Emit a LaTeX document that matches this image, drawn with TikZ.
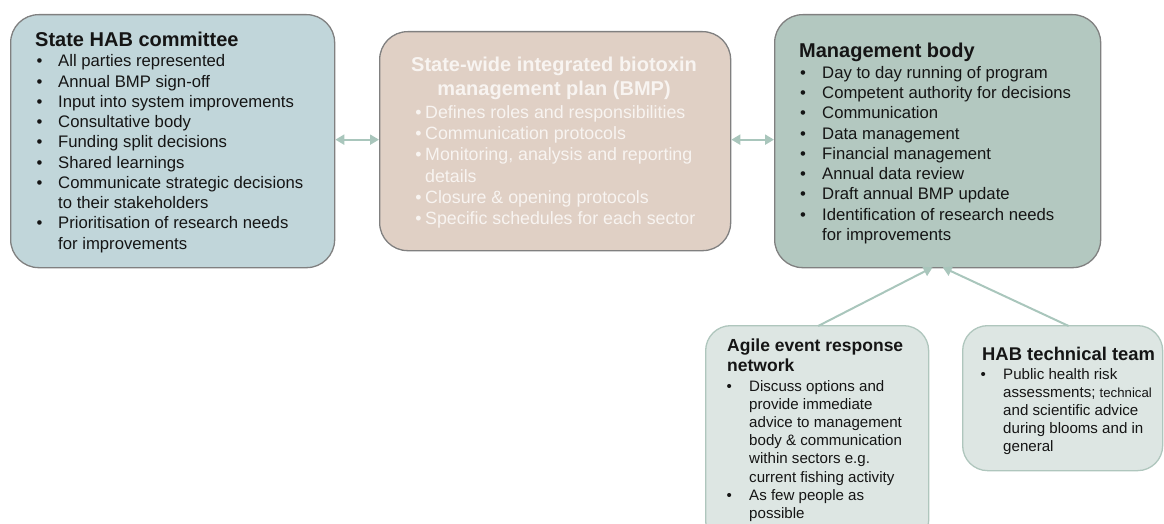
\documentclass[tikz,border=0pt]{standalone}
\usepackage{fontspec}
\setmainfont{Liberation Sans}
\usetikzlibrary{arrows.meta}
\definecolor{habfill}{HTML}{C1D6DA}
\definecolor{bmpfill}{HTML}{E0D0C5}
\definecolor{mgmtfill}{HTML}{B3C8C0}
\definecolor{subfill}{HTML}{DDE6E3}
\definecolor{subdraw}{HTML}{AFC6BD}
\definecolor{boxdraw}{HTML}{808080}
\definecolor{arrowcol}{HTML}{A9C6BC}
\definecolor{inktext}{HTML}{151515}
\definecolor{bmptext}{HTML}{F8F4F1}
\newcommand{\itm}[2]{\makebox[#1][l]{•}#2}
\newcommand{\cnt}[2]{\hspace*{#1}#2}
\begin{document}
\begin{tikzpicture}[x=1pt,y=-1pt,
  bigbox/.style={draw=boxdraw, line width=1.3pt, rounded corners=28pt, anchor=north west, inner sep=0pt},
  subbox/.style={draw=subdraw, fill=subfill, line width=1.3pt, rounded corners=25pt, anchor=north west, inner sep=0pt},
  titletext/.style={anchor=base west, inner sep=0pt, text=inktext, font=\bfseries\fontsize{20}{24}\selectfont},
  listtext/.style={anchor=base west, inner sep=0pt, text=inktext, font=\fontsize{16.7}{20.25}\selectfont},
  link/.style={draw=arrowcol, line width=2pt, -{Triangle[length=9pt,width=10pt]}},
  dlink/.style={draw=arrowcol, line width=2pt, {Triangle[length=9pt,width=10pt]}-{Triangle[length=9pt,width=10pt]}}
]
\useasboundingbox (0,0) rectangle (1164,524);

% boxes
\node[bigbox, fill=habfill, minimum width=324pt, minimum height=253pt] (hab) at (10,14) {};
\node[bigbox, fill=bmpfill, minimum width=351pt, minimum height=219pt] (bmp) at (379,31) {};
\node[bigbox, fill=mgmtfill, minimum width=326pt, minimum height=253pt] (mgmt) at (774,14) {};
\node[subbox, minimum width=223pt, minimum height=220pt] (agile) at (705,325) {};
\node[subbox, minimum width=200pt, minimum height=145pt] (tech) at (962,325) {};

% State HAB committee
\node[titletext] (habT) at (35,47) {State HAB committee};
\node[listtext] (habL) at (36.4,67) {\begin{tabular}[t]{@{}l@{}}
\itm{21.6pt}{All parties represented}\\
\itm{21.6pt}{Annual BMP sign-off}\\
\itm{21.6pt}{Input into system improvements}\\
\itm{21.6pt}{Consultative body}\\
\itm{21.6pt}{Funding split decisions}\\
\itm{21.6pt}{Shared learnings}\\
\itm{21.6pt}{Communicate strategic decisions}\\
\cnt{21.6pt}{to their stakeholders}\\
\itm{21.6pt}{Prioritisation of research needs}\\
\cnt{21.6pt}{for improvements}
\end{tabular}};

% BMP
\node[anchor=base, inner sep=0pt, text=bmptext, font=\bfseries\fontsize{20}{23.5}\selectfont] (bmpT) at (554,71.7) {\begin{tabular}[t]{@{}c@{}}
State-wide integrated biotoxin\\
management plan (BMP)
\end{tabular}};
\node[anchor=base west, inner sep=0pt, text=bmptext, font=\fontsize{17.8}{21.3}\selectfont] (bmpL) at (415.2,118.3) {\begin{tabular}[t]{@{}l@{}}
\itm{9.8pt}{Defines roles and responsibilities}\\
\itm{9.8pt}{Communication protocols}\\
\itm{9.8pt}{Monitoring, analysis and reporting}\\
\cnt{9.8pt}{details}\\
\itm{9.8pt}{Closure \& opening protocols}\\
\itm{9.8pt}{Specific schedules for each sector}
\end{tabular}};

% Management body
\node[titletext] (mgmtT) at (799,57.3) {Management body};
\node[listtext] (mgmtL) at (800,78.3) {\begin{tabular}[t]{@{}l@{}}
\itm{22pt}{Day to day running of program}\\
\itm{22pt}{Competent authority for decisions}\\
\itm{22pt}{Communication}\\
\itm{22pt}{Data management}\\
\itm{22pt}{Financial management}\\
\itm{22pt}{Annual data review}\\
\itm{22pt}{Draft annual BMP update}\\
\itm{22pt}{Identification of research needs}\\
\cnt{22pt}{for improvements}
\end{tabular}};

% Agile event response network
\node[titletext, font=\bfseries\fontsize{17.5}{20}\selectfont] (agileT) at (727,351.7) {\begin{tabular}[t]{@{}l@{}}
Agile event response\\
network
\end{tabular}};
\node[listtext, font=\fontsize{15.1}{18.2}\selectfont] (agileL) at (726.5,391) {\begin{tabular}[t]{@{}l@{}}
\itm{22.5pt}{Discuss options and}\\
\cnt{22.5pt}{provide immediate}\\
\cnt{22.5pt}{advice to management}\\
\cnt{22.5pt}{body \& communication}\\
\cnt{22.5pt}{within sectors e.g.}\\
\cnt{22.5pt}{current fishing activity}\\
\itm{22.5pt}{As few people as}\\
\cnt{22.5pt}{possible}
\end{tabular}};

% HAB technical team
\node[titletext, font=\bfseries\fontsize{18.4}{22}\selectfont] (techT) at (982,360) {HAB technical team};
\node[listtext, font=\fontsize{15.1}{18.2}\selectfont] (techL) at (980.4,379) {\begin{tabular}[t]{@{}l@{}}
\itm{22.6pt}{Public health risk}\\
\cnt{22.6pt}{assessments; {\fontsize{13.2}{18.2}\selectfont technical}}\\
\cnt{22.6pt}{and scientific advice}\\
\cnt{22.6pt}{during blooms and in}\\
\cnt{22.6pt}{general}
\end{tabular}};

% connectors
\draw[dlink] ([yshift=1.5pt]hab.east) -- ([yshift=1.5pt]bmp.west);
\draw[dlink] ([yshift=1.5pt]bmp.east) -- ([yshift=1.5pt]mgmt.west);
\draw[link] ([xshift=1pt,yshift=-1pt]agile.north) -- ([xshift=-5pt,yshift=1pt]mgmt.south);
\draw[link] ([xshift=6pt,yshift=-1pt]tech.north) -- ([xshift=5pt,yshift=1pt]mgmt.south);
\end{tikzpicture}
\end{document}
